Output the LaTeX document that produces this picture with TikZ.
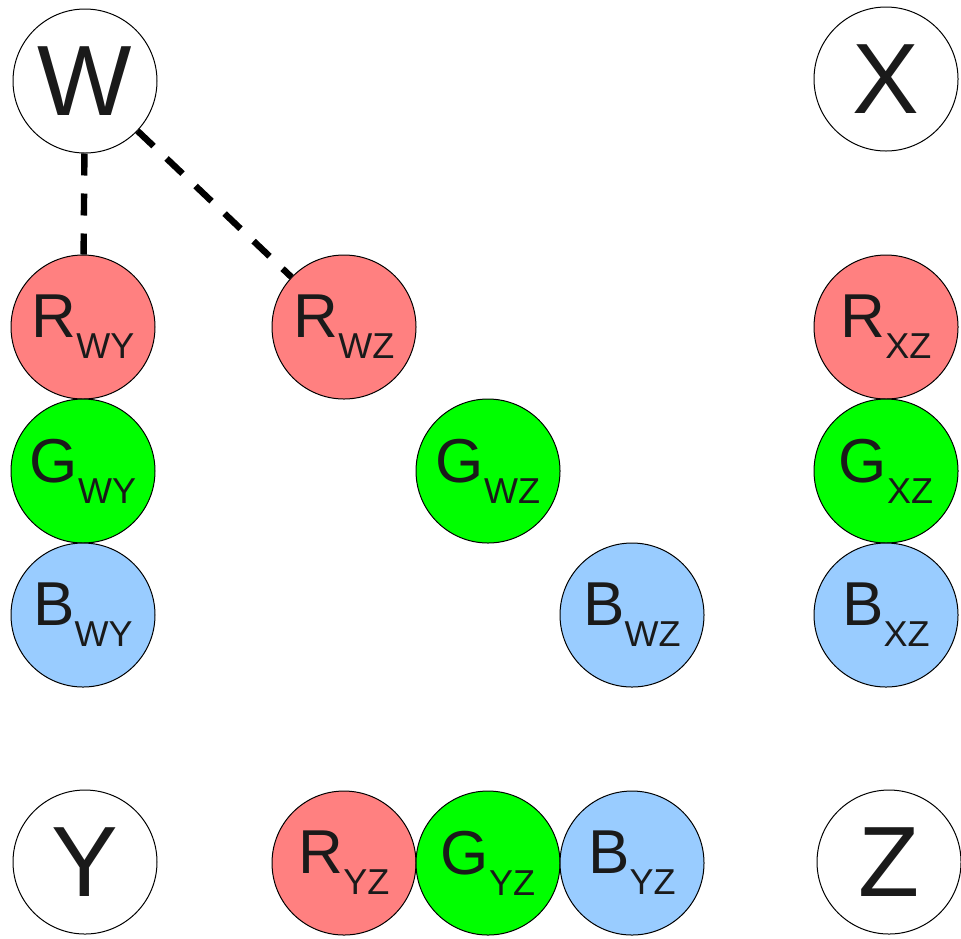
\documentclass[tikz,border=0pt]{standalone}
\usepackage{fontspec}
\setmainfont{Liberation Sans}
\usepackage{tikz}

\definecolor{tokred}{RGB}{255,128,128}
\definecolor{tokgreen}{RGB}{0,255,0}
\definecolor{tokblue}{RGB}{153,204,255}
\definecolor{ink}{RGB}{26,26,26}

\newcommand{\tok}[2]{#1\raisebox{-10.5pt}{\fontsize{18}{18}\selectfont #2}}

\begin{document}
\begin{tikzpicture}[x=0.5pt, y=-0.5pt,
        vertex/.style={circle, draw, line width=0.5pt, minimum size=72pt, inner sep=0pt,
            text=ink, font=\fontsize{50}{50}\selectfont},
        token/.style={circle, draw, line width=0.5pt, minimum size=72pt, inner sep=0pt,
            text=ink, font=\fontsize{31}{31}\selectfont},
        link/.style={line width=3.2pt, dash pattern=on 11pt off 9pt}]
                \useasboundingbox (0,0) rectangle (961,938);
                % corners
                \node[vertex] (W) at (85,81) {W};
                \node[vertex] (X) at (886,79) {X};
                \node[vertex] (Y) at (85,862) {Y};
                \node[vertex] (Z) at (889,862) {Z};
                % edge W-Y
                \node[token, fill=tokred] (RWY) at (83,327) {\tok{R}{WY}};
                \node[token, fill=tokgreen] (GWY) at (83,471) {\tok{G}{WY}};
                \node[token, fill=tokblue] (BWY) at (83,615) {\tok{B}{WY}};
                % edge W-Z
                \node[token, fill=tokred] (RWZ) at (344,327) {\tok{R}{WZ}};
                \node[token, fill=tokgreen] (GWZ) at (488,471) {\tok{G}{WZ}};
                \node[token, fill=tokblue] (BWZ) at (632,615) {\tok{B}{WZ}};
                % edge X-Z
                \node[token, fill=tokred] (RXZ) at (886,327) {\tok{R}{XZ}};
                \node[token, fill=tokgreen] (GXZ) at (886,471) {\tok{G}{XZ}};
                \node[token, fill=tokblue] (BXZ) at (886,615) {\tok{B}{XZ}};
                % edge Y-Z
                \node[token, fill=tokred] (RYZ) at (344,863) {\tok{R}{YZ}};
                \node[token, fill=tokgreen] (GYZ) at (488,863) {\tok{G}{YZ}};
                \node[token, fill=tokblue] (BYZ) at (632,863) {\tok{B}{YZ}};
                % links
                \draw[link] (W) -- (RWY);
                \draw[link] (W) -- (RWZ);
            \end{tikzpicture}
\end{document}
